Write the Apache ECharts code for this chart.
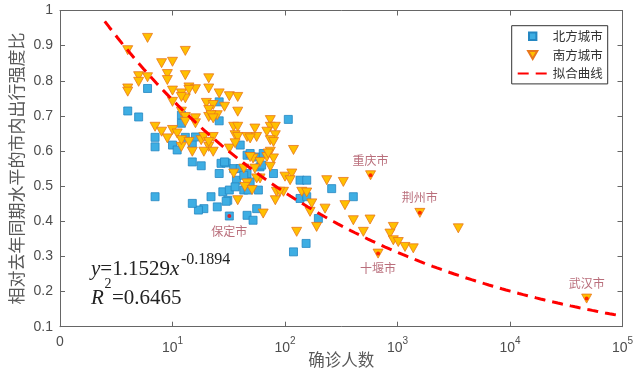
<!DOCTYPE html>
<html><head><meta charset="utf-8">
<script src="https://cdn.jsdelivr.net/npm/echarts@6/dist/echarts.min.js"></script>
<style>html,body{margin:0;padding:0;background:#fff}#c{width:640px;height:370px}</style>
</head><body><div id="c"></div>
<script>
// North cities (blue squares): confirmed cases, relative travel intensity
const northX = [4,5,6,7,7,10,11,12,12,13,15,16,15,18,26,26,26,27,30,40,46,49,56,60,64,79,107,136,156,35,37,46,49,43,58,28,32,36,31,22,19,17,15,7,46,52,56,136,156,260,405,198,119,154,30,40,62,43,25,47,29,32];
const northY = [0.714,0.697,0.778,0.639,0.612,0.617,0.603,0.702,0.679,0.639,0.622,0.640,0.569,0.558,0.740,0.686,0.536,0.565,0.566,0.617,0.588,0.593,0.583,0.555,0.593,0.536,0.690,0.517,0.517,0.550,0.517,0.536,0.512,0.489,0.489,0.484,0.489,0.498,0.460,0.470,0.436,0.432,0.451,0.470,0.417,0.403,0.436,0.465,0.470,0.493,0.470,0.408,0.313,0.337,0.457,0.550,0.560,0.531,0.441,0.489,0.569,0.415];
// South cities (orange triangles)
const southX = [6,4,13,8,10,5,5,6,9,9,13,21,4,4,10,12,13,14,16,21,26,32,38,10,20,23,29,12,21,21,25,38,13,13,16,16,7,8,10,11,9,12,15,18,19,23,21,19,23,32,35,38,36,38,46,54,56,74,74,82,69,82,74,79,36,119,52,69,74,79,60,43,35,100,115,46,38,44,51,64,82,84,97,127,141,156,173,167,191,54,60,111,227,235,330,341,405,576,570,497,918,857,918,1016,1166,1381,1580,3470,672,48000,12,14,22,23,12,14,21,49,71,74,56,90,49];
const southY = [0.922,0.887,0.885,0.850,0.854,0.813,0.797,0.810,0.819,0.802,0.816,0.807,0.778,0.769,0.772,0.764,0.750,0.781,0.776,0.778,0.764,0.756,0.754,0.740,0.737,0.731,0.726,0.712,0.717,0.697,0.702,0.712,0.697,0.683,0.693,0.679,0.669,0.655,0.660,0.650,0.636,0.612,0.598,0.631,0.640,0.640,0.612,0.598,0.598,0.607,0.669,0.669,0.645,0.640,0.640,0.664,0.640,0.688,0.669,0.669,0.655,0.645,0.631,0.626,0.622,0.603,0.579,0.583,0.598,0.579,0.569,0.550,0.536,0.527,0.536,0.508,0.460,0.498,0.489,0.422,0.460,0.484,0.484,0.370,0.484,0.482,0.451,0.427,0.384,0.550,0.522,0.517,0.436,0.517,0.512,0.446,0.403,0.531,0.405,0.370,0.384,0.365,0.346,0.341,0.327,0.323,0.424,0.380,0.308,0.180,0.754,0.774,0.702,0.693,0.631,0.626,0.626,0.583,0.593,0.555,0.522,0.484,0.636];
// Labelled cities
const specialNames = ['重庆市','荆州市','十堰市','武汉市','保定市'];
const specialX = [576,1580,672,48000,32];
const specialY = [0.531,0.424,0.308,0.180,0.415];
const specialLabelPos = ['top','top','bottom','top','bottom'];
// Fitted curve y = a * x^b (from the equation shown on the chart)
const fitA = 1.1529, fitB = -0.1894, fitR2 = 0.6465;
const fitXStart = 2.5, fitXEnd = 100000;
const xTickLabels = {1:'0',10:'1',100:'2',1000:'3',10000:'4',100000:'5'};

const fitData = [];
for (let i = 0; i <= 120; i++) {
  const lx = Math.log10(fitXStart) + (Math.log10(fitXEnd) - Math.log10(fitXStart)) * i / 120;
  const x = Math.pow(10, lx);
  fitData.push([x, fitA * Math.pow(x, fitB)]);
}
const northData = northX.map((x, i) => [x, northY[i]]);
const southData = southX.map((x, i) => [x, southY[i]]);
const specialData = specialNames.map((n, i) => ({
  name: n, value: [specialX[i], specialY[i]],
  label: {position: specialLabelPos[i]}
}));

// legend icons inside a 30x9 frame (corner move-tos fix the frame)
const iconSquare = 'path://M0 0M30 9M11.3 0.8L18.7 0.8L18.7 8.2L11.3 8.2Z';
const iconTriDown = 'path://M0 0M30 9M10.4 0.6L19.6 0.6L15 8.6Z';

const chart = echarts.init(document.getElementById('c'), null, {renderer: 'canvas'});
const axisCol = '#666';
const labelCol = '#4d4d4d';
const serif = 'Liberation Serif';
chart.setOption({
  animation: false,
  backgroundColor: '#fff',
  grid: {left: 60, right: 17.5, top: 10.5, bottom: 43.3, containLabel: false, outerBoundsMode: 'none'},
  legend: {
    orient: 'vertical', left: 511.7, top: 25.7,
    padding: [3, 5, 3, 5], itemGap: 3.6, itemWidth: 30, itemHeight: 9,
    symbolRotate: 0,
    borderColor: '#333', borderWidth: 1, backgroundColor: '#fff',
    textStyle: {fontFamily: 'Noto Sans CJK SC', fontSize: 12.5, color: '#333', lineHeight: 15},
    data: [
      {name: '北方城市', icon: iconSquare},
      {name: '南方城市', icon: iconTriDown},
      {name: '拟合曲线'}
    ]
  },
  xAxis: [{
    type: 'log', logBase: 10, min: 1, max: 100000,
    name: '确诊人数', nameLocation: 'middle', nameGap: 25, nameMoveOverlap: false,
    nameTextStyle: {fontFamily: 'Noto Sans CJK SC', fontSize: 16.5, color: '#595959'},
    axisLine: {lineStyle: {color: axisCol}},
    axisTick: {inside: true, length: 5, lineStyle: {color: axisCol}},
    minorTick: {show: false}, splitLine: {show: false},
    axisLabel: {
      margin: 8, color: labelCol, fontFamily: 'Liberation Sans', fontSize: 14,
      formatter: v => {
        const k = Math.round(v);
        if (k === 1) return '{z|0}';
        return '{b|10}{s|' + xTickLabels[k] + '}';
      },
      rich: {
        z: {fontSize: 14, color: labelCol, fontFamily: 'Liberation Sans', padding: [0, 0, 4, 0]},
        b: {fontSize: 14, color: labelCol, fontFamily: 'Liberation Sans', padding: [6, 0, 0, 0]},
        s: {fontSize: 10, color: labelCol, fontFamily: 'Liberation Sans', padding: [0, 0, 6, 0]}
      }
    }
  }, {
    type: 'log', logBase: 10, min: 1, max: 100000, position: 'top',
    axisLine: {lineStyle: {color: axisCol}},
    axisTick: {inside: true, length: 5, lineStyle: {color: axisCol}},
    axisLabel: {show: false}, splitLine: {show: false}
  }],
  yAxis: [{
    type: 'value', min: 0.1, max: 1, interval: 0.1,
    name: '相对去年同期水平的市内出行强度比', nameLocation: 'middle', nameGap: 35, nameMoveOverlap: false,
    nameTextStyle: {fontFamily: 'Noto Sans CJK SC', fontSize: 17, color: '#595959'},
    axisLine: {show: true, lineStyle: {color: axisCol}},
    axisTick: {show: true, inside: true, length: 5, lineStyle: {color: axisCol}},
    splitLine: {show: false},
    axisLabel: {
      margin: 7, color: labelCol, fontFamily: 'Liberation Sans', fontSize: 14,
      formatter: v => Math.abs(v - 1) < 1e-9 ? '1' : v.toFixed(1)
    }
  }, {
    type: 'value', min: 0.1, max: 1, interval: 0.1, position: 'right',
    axisLine: {show: true, lineStyle: {color: axisCol}},
    axisTick: {show: true, inside: true, length: 5, lineStyle: {color: axisCol}},
    axisLabel: {show: false}, splitLine: {show: false}
  }],
  series: [{
    name: '北方城市', type: 'scatter', data: northData,
    symbol: 'rect', symbolSize: 8,
    itemStyle: {color: '#3eaee3', borderColor: '#2487c2', borderWidth: 0.8, opacity: 1}
  }, {
    name: '南方城市', type: 'scatter', data: southData,
    symbol: 'triangle', symbolSize: [10, 9], symbolRotate: 180,
    itemStyle: {color: '#ffc000', borderColor: '#e8761c', borderWidth: 0.8, opacity: 1}
  }, {
    name: '拟合曲线', type: 'line', data: fitData, symbol: 'none', smooth: false,
    lineStyle: {color: '#ff0000', width: 3, type: [11, 7]},
    itemStyle: {color: 'rgba(0,0,0,0)', borderColor: 'rgba(0,0,0,0)', borderWidth: 0}, z: 3
  }, {
    name: '标注', type: 'scatter', data: specialData,
    symbol: 'circle', symbolSize: 4, z: 4,
    itemStyle: {color: '#ff0000'},
    label: {
      show: true, formatter: '{b}', distance: 7,
      fontFamily: 'Noto Sans CJK SC', fontSize: 12, color: '#a84a5a'
    }
  }],
  graphic: [
    {type: 'text', left: 91, top: 259, style: {
      text: '{i|y}{n|=' + fitA + '}{i|x}', fill: '#222',
      rich: {
        i: {fontFamily: serif, fontStyle: 'italic', fontSize: 21, fill: '#222'},
        n: {fontFamily: serif, fontSize: 21, fill: '#222'}
      }}},
    {type: 'text', left: 181, top: 252, style: {
      text: String(fitB), fontFamily: serif, fontSize: 16, fill: '#222'}},
    {type: 'text', left: 91, top: 288, style: {
      text: '{i|R}', fill: '#222',
      rich: {i: {fontFamily: serif, fontStyle: 'italic', fontSize: 21, fill: '#222'}}}},
    {type: 'text', left: 104.5, top: 277, style: {
      text: '2', fontFamily: serif, fontSize: 14, fill: '#222'}},
    {type: 'text', left: 112, top: 288, style: {
      text: '=' + fitR2, fontFamily: serif, fontSize: 21, fill: '#222'}}
  ]
});
</script>
</body></html>
